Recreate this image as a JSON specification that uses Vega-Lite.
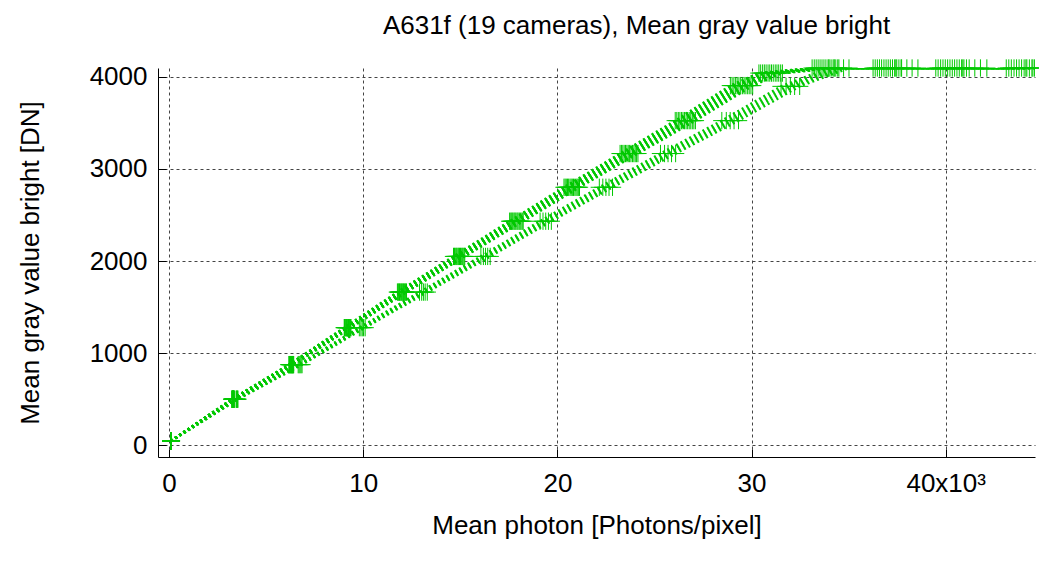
{
  "$schema": "https://vega.github.io/schema/vega-lite/v6.json",
  "width": 877,
  "height": 389,
  "autosize": "none",
  "padding": {"left": 158, "top": 68, "right": 4, "bottom": 105},
  "background": "white",
  "title": {"text": "A631f (19 cameras), Mean gray value bright", "fontSize": 26, "font": "Liberation Sans", "fontWeight": "normal", "offset": 18, "color": "black", "dx": 40},
  "config": {
    "view": {"stroke": null},
    "axis": {
      "labelFont": "Liberation Sans", "labelFontSize": 26, "labelColor": "black",
      "titleFont": "Liberation Sans", "titleFontSize": 26, "titleFontWeight": "normal", "titleColor": "black",
      "grid": true, "gridColor": "#444", "gridDash": [3, 3], "gridWidth": 1, "gridOpacity": 1,
      "domainColor": "black", "domainWidth": 1,
      "tickColor": "black", "tickSize": -8, "tickWidth": 1
    }
  },
  "data": {"values": [
    {"c":1,"x":0.1,"y":50},{"c":1,"x":3.23,"y":502},{"c":1,"x":6.17,"y":877},{"c":1,"x":9.02,"y":1278},{"c":1,"x":11.76,"y":1664},{"c":1,"x":14.65,"y":2051},{"c":1,"x":17.54,"y":2433},{"c":1,"x":20.34,"y":2801},{"c":1,"x":23.23,"y":3167},{"c":1,"x":26.07,"y":3524},{"c":1,"x":28.91,"y":3904},{"c":1,"x":30.38,"y":4040},{"c":1,"x":33.12,"y":4095},{"c":1,"x":36.26,"y":4095},{"c":1,"x":39.49,"y":4095},{"c":1,"x":43.12,"y":4095},
    {"c":2,"x":0.1,"y":50},{"c":2,"x":3.24,"y":502},{"c":2,"x":6.19,"y":877},{"c":2,"x":9.04,"y":1278},{"c":2,"x":11.8,"y":1664},{"c":2,"x":14.7,"y":2051},{"c":2,"x":17.6,"y":2433},{"c":2,"x":20.4,"y":2801},{"c":2,"x":23.3,"y":3167},{"c":2,"x":26.15,"y":3524},{"c":2,"x":29.0,"y":3904},{"c":2,"x":30.47,"y":4040},{"c":2,"x":33.23,"y":4095},{"c":2,"x":36.37,"y":4095},{"c":2,"x":39.61,"y":4095},{"c":2,"x":43.25,"y":4095},
    {"c":3,"x":0.1,"y":50},{"c":3,"x":3.25,"y":502},{"c":3,"x":6.21,"y":877},{"c":3,"x":9.07,"y":1278},{"c":3,"x":11.83,"y":1664},{"c":3,"x":14.74,"y":2051},{"c":3,"x":17.65,"y":2433},{"c":3,"x":20.46,"y":2801},{"c":3,"x":23.37,"y":3167},{"c":3,"x":26.23,"y":3524},{"c":3,"x":29.09,"y":3904},{"c":3,"x":30.57,"y":4040},{"c":3,"x":33.33,"y":4095},{"c":3,"x":36.48,"y":4095},{"c":3,"x":39.74,"y":4095},{"c":3,"x":43.38,"y":4095},
    {"c":4,"x":0.1,"y":50},{"c":4,"x":3.26,"y":502},{"c":4,"x":6.23,"y":877},{"c":4,"x":9.1,"y":1278},{"c":4,"x":11.87,"y":1664},{"c":4,"x":14.79,"y":2051},{"c":4,"x":17.7,"y":2433},{"c":4,"x":20.52,"y":2801},{"c":4,"x":23.44,"y":3167},{"c":4,"x":26.31,"y":3524},{"c":4,"x":29.18,"y":3904},{"c":4,"x":30.66,"y":4040},{"c":4,"x":33.43,"y":4095},{"c":4,"x":36.59,"y":4095},{"c":4,"x":39.86,"y":4095},{"c":4,"x":43.52,"y":4095},
    {"c":5,"x":0.1,"y":50},{"c":5,"x":3.27,"y":502},{"c":5,"x":6.25,"y":877},{"c":5,"x":9.13,"y":1278},{"c":5,"x":11.9,"y":1664},{"c":5,"x":14.83,"y":2051},{"c":5,"x":17.76,"y":2433},{"c":5,"x":20.58,"y":2801},{"c":5,"x":23.51,"y":3167},{"c":5,"x":26.39,"y":3524},{"c":5,"x":29.26,"y":3904},{"c":5,"x":30.75,"y":4040},{"c":5,"x":33.53,"y":4095},{"c":5,"x":36.7,"y":4095},{"c":5,"x":39.98,"y":4095},{"c":5,"x":43.65,"y":4095},
    {"c":6,"x":0.1,"y":50},{"c":6,"x":3.28,"y":502},{"c":6,"x":6.27,"y":877},{"c":6,"x":9.15,"y":1278},{"c":6,"x":11.94,"y":1664},{"c":6,"x":14.88,"y":2051},{"c":6,"x":17.81,"y":2433},{"c":6,"x":20.65,"y":2801},{"c":6,"x":23.58,"y":3167},{"c":6,"x":26.47,"y":3524},{"c":6,"x":29.35,"y":3904},{"c":6,"x":30.85,"y":4040},{"c":6,"x":33.63,"y":4095},{"c":6,"x":36.82,"y":4095},{"c":6,"x":40.1,"y":4095},{"c":6,"x":43.78,"y":4095},
    {"c":7,"x":0.1,"y":50},{"c":7,"x":3.29,"y":502},{"c":7,"x":6.29,"y":877},{"c":7,"x":9.18,"y":1278},{"c":7,"x":11.98,"y":1664},{"c":7,"x":14.92,"y":2051},{"c":7,"x":17.86,"y":2433},{"c":7,"x":20.71,"y":2801},{"c":7,"x":23.65,"y":3167},{"c":7,"x":26.55,"y":3524},{"c":7,"x":29.44,"y":3904},{"c":7,"x":30.94,"y":4040},{"c":7,"x":33.73,"y":4095},{"c":7,"x":36.93,"y":4095},{"c":7,"x":40.22,"y":4095},{"c":7,"x":43.91,"y":4095},
    {"c":8,"x":0.1,"y":50},{"c":8,"x":3.3,"y":502},{"c":8,"x":6.31,"y":877},{"c":8,"x":9.21,"y":1278},{"c":8,"x":12.01,"y":1664},{"c":8,"x":14.96,"y":2051},{"c":8,"x":17.92,"y":2433},{"c":8,"x":20.77,"y":2801},{"c":8,"x":23.72,"y":3167},{"c":8,"x":26.63,"y":3524},{"c":8,"x":29.53,"y":3904},{"c":8,"x":31.03,"y":4040},{"c":8,"x":33.83,"y":4095},{"c":8,"x":37.04,"y":4095},{"c":8,"x":40.34,"y":4095},{"c":8,"x":44.04,"y":4095},
    {"c":9,"x":0.1,"y":50},{"c":9,"x":3.31,"y":502},{"c":9,"x":6.33,"y":877},{"c":9,"x":9.24,"y":1278},{"c":9,"x":12.05,"y":1664},{"c":9,"x":15.01,"y":2051},{"c":9,"x":17.97,"y":2433},{"c":9,"x":20.83,"y":2801},{"c":9,"x":23.79,"y":3167},{"c":9,"x":26.71,"y":3524},{"c":9,"x":29.62,"y":3904},{"c":9,"x":31.12,"y":4040},{"c":9,"x":33.94,"y":4095},{"c":9,"x":37.15,"y":4095},{"c":9,"x":40.46,"y":4095},{"c":9,"x":44.18,"y":4095},
    {"c":10,"x":0.1,"y":50},{"c":10,"x":3.32,"y":502},{"c":10,"x":6.34,"y":877},{"c":10,"x":9.26,"y":1278},{"c":10,"x":12.08,"y":1664},{"c":10,"x":15.05,"y":2051},{"c":10,"x":18.03,"y":2433},{"c":10,"x":20.9,"y":2801},{"c":10,"x":23.87,"y":3167},{"c":10,"x":26.79,"y":3524},{"c":10,"x":29.71,"y":3904},{"c":10,"x":31.22,"y":4040},{"c":10,"x":34.04,"y":4095},{"c":10,"x":37.26,"y":4095},{"c":10,"x":40.58,"y":4095},{"c":10,"x":44.31,"y":4095},
    {"c":11,"x":0.1,"y":50},{"c":11,"x":3.33,"y":502},{"c":11,"x":6.36,"y":877},{"c":11,"x":9.29,"y":1278},{"c":11,"x":12.12,"y":1664},{"c":11,"x":15.1,"y":2051},{"c":11,"x":18.08,"y":2433},{"c":11,"x":20.96,"y":2801},{"c":11,"x":23.94,"y":3167},{"c":11,"x":26.87,"y":3524},{"c":11,"x":29.8,"y":3904},{"c":11,"x":31.31,"y":4040},{"c":11,"x":34.14,"y":4095},{"c":11,"x":37.37,"y":4095},{"c":11,"x":40.7,"y":4095},{"c":11,"x":44.44,"y":4095},
    {"c":12,"x":0.1,"y":50},{"c":12,"x":3.34,"y":502},{"c":12,"x":6.38,"y":877},{"c":12,"x":9.32,"y":1278},{"c":12,"x":12.16,"y":1664},{"c":12,"x":15.14,"y":2051},{"c":12,"x":18.13,"y":2433},{"c":12,"x":21.02,"y":2801},{"c":12,"x":24.01,"y":3167},{"c":12,"x":26.95,"y":3524},{"c":12,"x":29.88,"y":3904},{"c":12,"x":31.4,"y":4040},{"c":12,"x":34.24,"y":4095},{"c":12,"x":37.48,"y":4095},{"c":12,"x":40.82,"y":4095},{"c":12,"x":44.57,"y":4095},
    {"c":13,"x":0.1,"y":50},{"c":13,"x":3.35,"y":502},{"c":13,"x":6.4,"y":877},{"c":13,"x":9.35,"y":1278},{"c":13,"x":12.19,"y":1664},{"c":13,"x":15.19,"y":2051},{"c":13,"x":18.19,"y":2433},{"c":13,"x":21.08,"y":2801},{"c":13,"x":24.08,"y":3167},{"c":13,"x":27.03,"y":3524},{"c":13,"x":29.97,"y":3904},{"c":13,"x":31.5,"y":4040},{"c":13,"x":34.34,"y":4095},{"c":13,"x":37.59,"y":4095},{"c":13,"x":40.94,"y":4095},{"c":13,"x":44.7,"y":4095},
    {"c":14,"x":0.1,"y":50},{"c":14,"x":3.36,"y":502},{"c":14,"x":6.42,"y":877},{"c":14,"x":9.37,"y":1278},{"c":14,"x":12.23,"y":1664},{"c":14,"x":15.23,"y":2051},{"c":14,"x":18.24,"y":2433},{"c":14,"x":21.14,"y":2801},{"c":14,"x":24.15,"y":3167},{"c":14,"x":27.11,"y":3524},{"c":14,"x":30.06,"y":3904},{"c":14,"x":31.59,"y":4040},{"c":14,"x":34.44,"y":4095},{"c":14,"x":37.7,"y":4095},{"c":14,"x":41.07,"y":4095},{"c":14,"x":44.84,"y":4095},
    {"c":15,"x":0.12,"y":50},{"c":15,"x":3.45,"y":502},{"c":15,"x":6.65,"y":877},{"c":15,"x":9.8,"y":1278},{"c":15,"x":12.9,"y":1664},{"c":15,"x":16.06,"y":2051},{"c":15,"x":19.11,"y":2433},{"c":15,"x":22.16,"y":2801},{"c":15,"x":25.31,"y":3167},{"c":15,"x":28.47,"y":3524},{"c":15,"x":31.52,"y":3896},{"c":15,"x":33.98,"y":4095},{"c":15,"x":37.43,"y":4095},{"c":15,"x":40.88,"y":4095},{"c":15,"x":44.13,"y":4095},
    {"c":16,"x":0.12,"y":50},{"c":16,"x":3.48,"y":502},{"c":16,"x":6.7,"y":877},{"c":16,"x":9.88,"y":1278},{"c":16,"x":13.01,"y":1664},{"c":16,"x":16.19,"y":2051},{"c":16,"x":19.26,"y":2433},{"c":16,"x":22.34,"y":2801},{"c":16,"x":25.52,"y":3167},{"c":16,"x":28.7,"y":3524},{"c":16,"x":31.78,"y":3896},{"c":16,"x":34.26,"y":4095},{"c":16,"x":37.73,"y":4095},{"c":16,"x":41.21,"y":4095},{"c":16,"x":44.49,"y":4095},
    {"c":17,"x":0.12,"y":50},{"c":17,"x":3.5,"y":502},{"c":17,"x":6.75,"y":877},{"c":17,"x":9.95,"y":1278},{"c":17,"x":13.1,"y":1664},{"c":17,"x":16.3,"y":2051},{"c":17,"x":19.4,"y":2433},{"c":17,"x":22.5,"y":2801},{"c":17,"x":25.7,"y":3167},{"c":17,"x":28.9,"y":3524},{"c":17,"x":32.0,"y":3896},{"c":17,"x":34.5,"y":4095},{"c":17,"x":38.0,"y":4095},{"c":17,"x":41.5,"y":4095},{"c":17,"x":44.8,"y":4095},
    {"c":18,"x":0.12,"y":50},{"c":18,"x":3.52,"y":502},{"c":18,"x":6.8,"y":877},{"c":18,"x":10.02,"y":1278},{"c":18,"x":13.19,"y":1664},{"c":18,"x":16.41,"y":2051},{"c":18,"x":19.54,"y":2433},{"c":18,"x":22.66,"y":2801},{"c":18,"x":25.88,"y":3167},{"c":18,"x":29.1,"y":3524},{"c":18,"x":32.22,"y":3896},{"c":18,"x":34.74,"y":4095},{"c":18,"x":38.27,"y":4095},{"c":18,"x":41.79,"y":4095},{"c":18,"x":45.11,"y":4095},
    {"c":19,"x":0.12,"y":50},{"c":19,"x":3.55,"y":502},{"c":19,"x":6.85,"y":877},{"c":19,"x":10.1,"y":1278},{"c":19,"x":13.3,"y":1664},{"c":19,"x":16.54,"y":2051},{"c":19,"x":19.69,"y":2433},{"c":19,"x":22.84,"y":2801},{"c":19,"x":26.09,"y":3167},{"c":19,"x":29.33,"y":3524},{"c":19,"x":32.48,"y":3896},{"c":19,"x":35.02,"y":4095},{"c":19,"x":38.57,"y":4095},{"c":19,"x":42.12,"y":4095},{"c":19,"x":45.47,"y":4095}
  ]},
  "encoding": {
    "x": {"field": "x", "type": "quantitative",
      "scale": {"domain": [-0.57, 44.6], "nice": false, "zero": false},
      "axis": {"values": [0, 10, 20, 30, 40], "labelExpr": "datum.value == 40 ? '40x10³' : datum.label", "title": "Mean photon [Photons/pixel]", "labelPadding": 21, "titlePadding": 16}},
    "y": {"field": "y", "type": "quantitative",
      "scale": {"domain": [-125, 4095], "nice": false, "zero": false},
      "axis": {"values": [0, 1000, 2000, 3000, 4000], "format": "d", "title": "Mean gray value bright [DN]", "labelPadding": 19, "titlePadding": 46}}
  },
  "layer": [
    {"mark": {"type": "line", "color": "#00c800", "strokeWidth": 2.5, "strokeDash": [2, 3], "clip": true},
     "encoding": {"detail": {"field": "c", "type": "nominal"}}},
    {"transform": [{"filter": "datum.x <= 44.6"}],
     "mark": {"type": "point", "shape": "M-1,0L1,0M0,-1L0,1", "filled": false, "color": "#00c800", "strokeWidth": 1, "size": 300, "opacity": 1, "clip": false}}
  ]
}
